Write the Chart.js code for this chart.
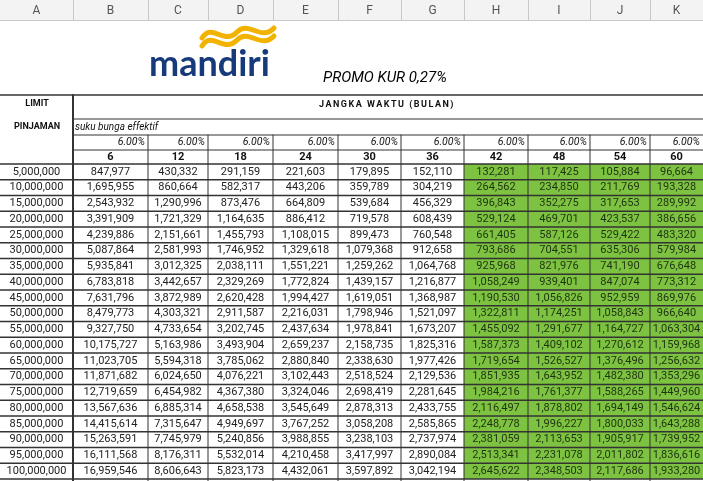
<!DOCTYPE html>
<html><head><meta charset="utf-8">
<script src="https://cdn.jsdelivr.net/npm/chart.js@4"></script>
<style>html,body{margin:0;padding:0;background:#fff}canvas{display:block}</style>
</head><body>
<canvas id="c" width="703" height="481"></canvas>
<script>
const columnLetters = ["A","B","C","D","E","F","G","H","I","J","K"];
const tenors = [6,12,18,24,30,36,42,48,54,60];
const rateLabels = ["6.00%","6.00%","6.00%","6.00%","6.00%","6.00%","6.00%","6.00%","6.00%","6.00%"];
const limits = ["5,000,000","10,000,000","15,000,000","20,000,000","25,000,000","30,000,000","35,000,000","40,000,000","45,000,000","50,000,000","55,000,000","60,000,000","65,000,000","70,000,000","75,000,000","80,000,000","85,000,000","90,000,000","95,000,000","100,000,000"];
const m6  = [847977,1695955,2543932,3391909,4239886,5087864,5935841,6783818,7631796,8479773,9327750,10175727,11023705,11871682,12719659,13567636,14415614,15263591,16111568,16959546];
const m12 = [430332,860664,1290996,1721329,2151661,2581993,3012325,3442657,3872989,4303321,4733654,5163986,5594318,6024650,6454982,6885314,7315647,7745979,8176311,8606643];
const m18 = [291159,582317,873476,1164635,1455793,1746952,2038111,2329269,2620428,2911587,3202745,3493904,3785062,4076221,4367380,4658538,4949697,5240856,5532014,5823173];
const m24 = [221603,443206,664809,886412,1108015,1329618,1551221,1772824,1994427,2216031,2437634,2659237,2880840,3102443,3324046,3545649,3767252,3988855,4210458,4432061];
const m30 = [179895,359789,539684,719578,899473,1079368,1259262,1439157,1619051,1798946,1978841,2158735,2338630,2518524,2698419,2878313,3058208,3238103,3417997,3597892];
const m36 = [152110,304219,456329,608439,760548,912658,1064768,1216877,1368987,1521097,1673207,1825316,1977426,2129536,2281645,2433755,2585865,2737974,2890084,3042194];
const m42 = [132281,264562,396843,529124,661405,793686,925968,1058249,1190530,1322811,1455092,1587373,1719654,1851935,1984216,2116497,2248778,2381059,2513341,2645622];
const m48 = [117425,234850,352275,469701,587126,704551,821976,939401,1056826,1174251,1291677,1409102,1526527,1643952,1761377,1878802,1996227,2113653,2231078,2348503];
const m54 = [105884,211769,317653,423537,529422,635306,741190,847074,952959,1058843,1164727,1270612,1376496,1482380,1588265,1694149,1800033,1905917,2011802,2117686];
const m60 = [96664,193328,289992,386656,483320,579984,676648,773312,869976,966640,1063304,1159968,1256632,1353296,1449960,1546624,1643288,1739952,1836616,1933280];
const series = [m6,m12,m18,m24,m30,m36,m42,m48,m54,m60];
const greenFrom = 6;

const colEdges = [0,73,148,208,273,338,401,464,528,590,650,703];
const rowTop0 = 164, rowH = 15.75;
const fmt = v => v.toLocaleString('en-US');

const tablePlugin = {
  id:'table',
  afterDraw(chart){
    const ctx = chart.ctx, xs = chart.scales.x, ys = chart.scales.y;
    const X = v => xs.getPixelForValue(v), Y = v => ys.getPixelForValue(v);
    ctx.save();
    ctx.fillStyle='#f3f3f3'; ctx.fillRect(X(0),Y(0),X(703)-X(0),Y(20)-Y(0));
    ctx.strokeStyle='#c8c8c8'; ctx.lineWidth=1;
    ctx.font='12px Roboto'; ctx.textAlign='center'; ctx.textBaseline='middle';
    columnLetters.forEach((l,i)=>{
      ctx.fillStyle='#555'; ctx.fillText(l,(X(colEdges[i])+X(colEdges[i+1]))/2,Y(11));
      ctx.beginPath(); ctx.moveTo(X(colEdges[i+1])+.5,Y(0)); ctx.lineTo(X(colEdges[i+1])+.5,Y(20)); ctx.stroke();
    });
    ctx.beginPath(); ctx.moveTo(0,Y(20)+.5); ctx.lineTo(X(703),Y(20)+.5); ctx.stroke();
    // logo
    ctx.strokeStyle='#f2b300'; ctx.lineWidth=5; ctx.lineCap='round';
    for(let k=0;k<2;k++){
      const oy = k*8;
      ctx.beginPath(); ctx.moveTo(X(202),Y(38+oy));
      ctx.bezierCurveTo(X(212),Y(22+oy),X(224),Y(46+oy),X(237),Y(32+oy));
      ctx.bezierCurveTo(X(249),Y(20+oy),X(261),Y(42+oy),X(274),Y(28+oy));
      ctx.stroke();
    }
    ctx.fillStyle='#173a7a'; ctx.font='bold 36px Lato'; ctx.textAlign='left'; ctx.textBaseline='alphabetic';
    ctx.fillText('mandiri',X(149),Y(76));
    ctx.fillStyle='#000'; ctx.font='italic 15px Roboto';
    ctx.fillText('PROMO KUR 0,27%',X(323),Y(82));
    // green block
    ctx.fillStyle='#7dc241';
    ctx.fillRect(X(colEdges[greenFrom+1]),Y(rowTop0),X(703)-X(colEdges[greenFrom+1]),Y(rowTop0+rowH*limits.length)-Y(rowTop0));
    // header texts
    ctx.fillStyle='#111'; ctx.font='bold 9px Roboto'; ctx.textAlign='center'; ctx.textBaseline='middle';
    ctx.fillText('LIMIT',X(37),Y(104)); ctx.fillText('PINJAMAN',X(37),Y(127));
    ctx.letterSpacing='1.5px';
    ctx.fillText('JANGKA WAKTU (BULAN)',X(387),Y(105));
    ctx.letterSpacing='0px';
    ctx.font='italic 10px Roboto'; ctx.textAlign='left';
    ctx.fillText('suku bunga effektif',X(75),Y(127));
    ctx.font='italic 10.5px Roboto'; ctx.textAlign='right';
    rateLabels.forEach((r,i)=>ctx.fillText(r,X(colEdges[i+2])-3,Y(142)));
    ctx.font='bold 11px Roboto'; ctx.textAlign='center';
    tenors.forEach((t,i)=>ctx.fillText(String(t),(X(colEdges[i+1])+X(colEdges[i+2]))/2,Y(157)));
    ctx.font='11px Roboto';
    limits.forEach((l,r)=>{
      const cy = Y(rowTop0+rowH*(r+0.5));
      ctx.fillStyle='#222';
      ctx.fillText(l,(X(0)+X(73))/2,cy);
      series.forEach((s,c)=>{
        ctx.fillStyle = c>=greenFrom ? '#1e3310' : '#222';
        ctx.fillText(fmt(s[r]),(X(colEdges[c+1])+X(colEdges[c+2]))/2,cy);
      });
    });
    ctx.strokeStyle='#333';
    const hl=(y,x0,x1,w)=>{ctx.lineWidth=w;ctx.beginPath();ctx.moveTo(X(x0),Y(y));ctx.lineTo(X(x1),Y(y));ctx.stroke();};
    const vl=(x,y0,y1,w)=>{ctx.lineWidth=w;ctx.beginPath();ctx.moveTo(X(x),Y(y0));ctx.lineTo(X(x),Y(y1));ctx.stroke();};
    hl(95,0,703,1.5);
    hl(119,73,703,1); hl(135,73,703,1); hl(150,73,703,1);
    hl(rowTop0,0,703,1.5);
    for(let r=1;r<=limits.length;r++) hl(rowTop0+rowH*r,0,703,1.3);
    vl(73,95,481,2);
    for(let c=2;c<colEdges.length-1;c++) vl(colEdges[c],135,481,1);
    ctx.restore();
  }
};

new Chart(document.getElementById('c'),{
  type:'scatter',
  data:{datasets:[{data:[]}]},
  options:{
    responsive:false, animation:false, devicePixelRatio:1,
    layout:{padding:0},
    plugins:{legend:{display:false},tooltip:{enabled:false}},
    scales:{
      x:{type:'linear',min:0,max:703,display:false},
      y:{type:'linear',min:0,max:481,reverse:true,display:false}
    }
  },
  plugins:[tablePlugin]
});
</script>
</body></html>
